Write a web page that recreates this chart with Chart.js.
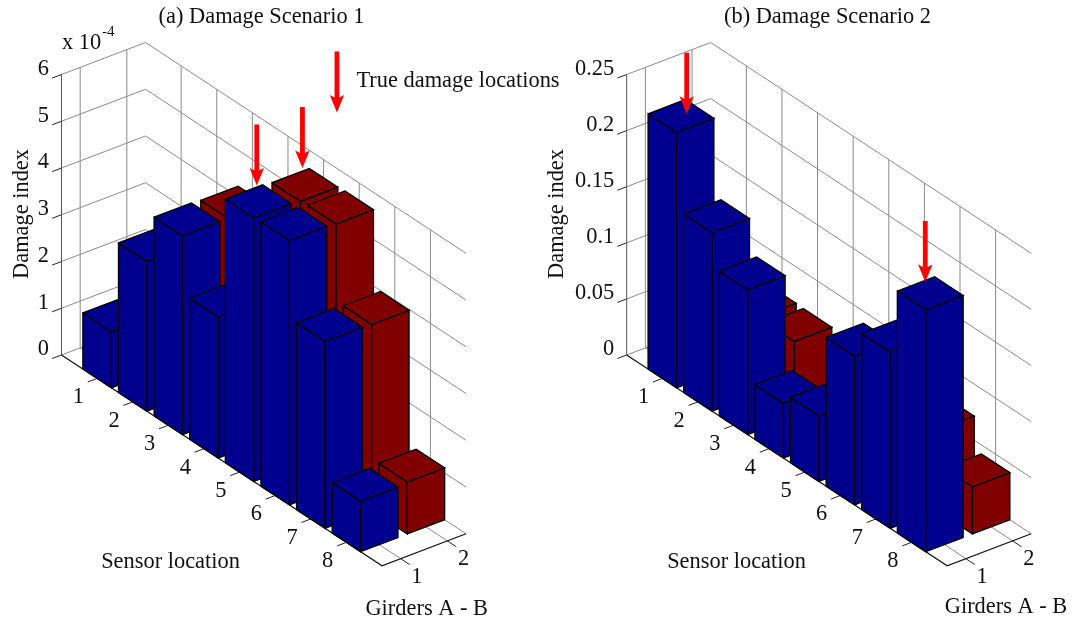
<!DOCTYPE html>
<html>
<head>
    <title>Damage Scenarios</title>
    <script src="https://cdn.jsdelivr.net/npm/chart.js"></script>
    <style>
        html, body { margin: 0; background: #fff; overflow: hidden; height: 100%; }
        canvas { position: absolute; top: 0; }
        #chart-a { left: 0; }
        #chart-b { left: 540px; }
    </style>
</head>
<body>
<canvas id="chart-a" width="565" height="625"></canvas>
<canvas id="chart-b" width="565" height="625"></canvas>
<script>
const sensors = [1, 2, 3, 4, 5, 6, 7, 8];
const girders = [1, 2];

const scenario1GirderA = [1.2, 3.2, 4.25, 3.02, 5.64, 5.66, 4.0, 1.08];
const scenario1GirderB = [1.5, 2.0, 4.23, 2.8, 5.61, 5.63, 3.98, 1.11];
const scenario1Ticks = [0, 1, 2, 3, 4, 5, 6];
const scenario1Arrows = [[4.96, 1, 5.96], [4.93, 2, 5.94], [5.9, 2, 7.61]];

const scenario2GirderA = [0.2275, 0.159, 0.129, 0.0487, 0.0584, 0.1326, 0.157, 0.2157];
const scenario2GirderB = [0.05, 0.0675, 0.0672, 0.015, 0.03, 0.04, 0.0714, 0.042];
const scenario2Ticks = [0, 0.05, 0.1, 0.15, 0.2, 0.25];
const scenario2Arrows = [[1.16, 1, 0.2329], [7.86, 1, 0.2227]];

const BLUE = '#00008f', RED = '#800000', GRID = '#8a8a8a', INK = '#111';
const FONT = '22.4px "Liberation Serif"';
const SENSOR_MIN = 0, SENSOR_MAX = 9, GIRDER_MIN = 0.6, GIRDER_MAX = 2.4;
const SENSOR_PX = 35.61, WALL_PX = 280.5, AREA_TOP = 30, AREA_BOTTOM = 600, FLOOR_Y = 355;
const BAR_HALF = 0.4;

function makePanel(cfg) {
    const zMax = cfg.ticks[cfg.ticks.length - 1];
    // oblique projection of (sensor, girder, value) into the chart's x and y scales
    const project = (s, g, z) => ({
        x: s + (g - GIRDER_MIN) * 1.311,
        y: z + zMax * (-s * 0.0835 + (g - GIRDER_MIN) * 0.0634)
    });

    const layers = [];
    const line = (pts, color, width) => layers.push({
        type: 'line', data: pts, borderColor: color, borderWidth: width,
        pointRadius: 0, tension: 0, fill: false, clip: false, borderCapStyle: 'butt'
    });
    const face = (pts, color, width) => layers.push({
        type: 'line', data: pts.concat([pts[0]]), borderColor: width ? '#000' : color,
        borderWidth: width, backgroundColor: color, pointRadius: 0, tension: 0,
        fill: 'shape', clip: false, borderJoinStyle: 'miter'
    });

    // walls and floor
    cfg.ticks.forEach(z => {
        line([project(SENSOR_MIN, GIRDER_MIN, z), project(SENSOR_MIN, GIRDER_MAX, z), project(SENSOR_MAX, GIRDER_MAX, z)], GRID, 1);
    });
    sensors.forEach(s => {
        line([project(s, GIRDER_MAX, 0), project(s, GIRDER_MAX, zMax)], GRID, 1);
        line([project(s, GIRDER_MIN, 0), project(s, GIRDER_MAX, 0)], GRID, 1);
        line([project(s, GIRDER_MIN - 0.2, 0), project(s, GIRDER_MIN, 0)], '#222', 1);
    });
    girders.forEach(g => {
        line([project(SENSOR_MIN, g, 0), project(SENSOR_MIN, g, zMax)], GRID, 1);
        line([project(SENSOR_MIN, g, 0), project(SENSOR_MAX, g, 0)], GRID, 1);
        line([project(SENSOR_MAX, g, 0), project(SENSOR_MAX + 0.25, g, 0)], '#222', 1);
    });
    cfg.ticks.forEach(z => {
        line([project(SENSOR_MIN, GIRDER_MIN - 0.2, z), project(SENSOR_MIN, GIRDER_MIN, z)], '#222', 1);
    });
    line([project(SENSOR_MIN, GIRDER_MIN, 0), project(SENSOR_MIN, GIRDER_MIN, zMax)], '#555', 1);
    line([project(SENSOR_MIN, GIRDER_MIN, 0), project(SENSOR_MAX, GIRDER_MIN, 0), project(SENSOR_MAX, GIRDER_MAX, 0)], '#111', 1.2);

    // bars, back girder first, then from the far sensor to the near one
    const addBars = (values, g, color) => {
        values.forEach((z, i) => {
            const s0 = sensors[i] - BAR_HALF, s1 = sensors[i] + BAR_HALF;
            const g0 = g - BAR_HALF, g1 = g + BAR_HALF;
            face([project(s0, g0, 0), project(s1, g0, 0), project(s1, g0, z), project(s0, g0, z)], color, 1.3);
            face([project(s1, g0, 0), project(s1, g1, 0), project(s1, g1, z), project(s1, g0, z)], color, 1.3);
            face([project(s0, g0, z), project(s1, g0, z), project(s1, g1, z), project(s0, g1, z)], color, 1.3);
        });
    };
    addBars(cfg.girderB, girders[1], RED);
    addBars(cfg.girderA, girders[0], BLUE);

    // arrows
    const ux = 1 / SENSOR_PX, uy = zMax / WALL_PX;
    cfg.arrows.forEach(a => {
        const tip = project(a[0], a[1], a[2]);
        const at = (dx, dy) => ({x: tip.x + dx * ux, y: tip.y + dy * uy});
        face([at(0, 0), at(7.2, 17.5), at(2.4, 15), at(2.4, 61), at(-2.4, 61), at(-2.4, 15), at(-7.2, 17.5)], '#ff0000', 0);
    });

    const labels = {
        id: 'panelLabels',
        afterDatasetsDraw(chart) {
            const ctx = chart.ctx, xs = chart.scales.x, ys = chart.scales.y;
            const px = p => ({x: xs.getPixelForValue(p.x), y: ys.getPixelForValue(p.y)});
            ctx.save();
            ctx.font = FONT;
            ctx.fillStyle = INK;
            ctx.textAlign = 'center';
            ctx.textBaseline = 'middle';
            sensors.forEach(s => {
                const p = px(project(s, GIRDER_MIN, 0));
                ctx.fillText(String(s), p.x - 18.7, p.y + 19);
            });
            girders.forEach(g => {
                const p = px(project(SENSOR_MAX, g, 0));
                ctx.fillText(String(g), p.x + 16.3, p.y + 18.7);
            });
            cfg.notes.forEach(n => ctx.fillText(n[0], n[1], n[2]));
            ctx.translate(cfg.yTitleX, 214);
            ctx.rotate(-Math.PI / 2);
            ctx.fillText('Damage index', 0, 0);
            ctx.restore();
            if (cfg.extra) cfg.extra(ctx);
        }
    };

    const canvas = document.getElementById(cfg.id);
    const xMin = SENSOR_MIN - 6.5 / SENSOR_PX;
    const areaLeft = cfg.axisX - 6.5;
    const areaRight = canvas.width - cfg.padRight;
    return new Chart(canvas, {
        data: {datasets: layers.reverse()},
        plugins: [labels],
        options: {
            responsive: false,
            animation: false,
            layout: {padding: {left: cfg.padLeft, right: cfg.padRight, top: 0, bottom: canvas.height - AREA_BOTTOM}},
            plugins: {
                legend: {display: false},
                tooltip: {enabled: false},
                title: {
                    display: true,
                    text: cfg.title,
                    color: INK,
                    font: {family: '"Liberation Serif"', size: 22.4, weight: 'normal', lineHeight: '24px'},
                    padding: {top: 5, bottom: 1}
                }
            },
            scales: {
                x: {
                    type: 'linear', display: false,
                    min: xMin,
                    max: xMin + (areaRight - areaLeft) / SENSOR_PX
                },
                y: {
                    type: 'linear',
                    min: -zMax * (AREA_BOTTOM - FLOOR_Y) / WALL_PX,
                    max: zMax * (FLOOR_Y - AREA_TOP) / WALL_PX,
                    grid: {display: false, drawTicks: false},
                    border: {display: false},
                    afterBuildTicks: axis => { axis.ticks = cfg.ticks.map(v => ({value: v})); },
                    afterFit: axis => { axis.width = areaLeft - cfg.padLeft; },
                    ticks: {
                        color: INK,
                        padding: 6,
                        labelOffset: -5.5,
                        autoSkip: false,
                        font: {family: '"Liberation Serif"', size: 22.4},
                        callback: v => String(v)
                    }
                }
            }
        }
    });
}

makePanel({
    id: 'chart-a', title: '(a) Damage Scenario 1',
    axisX: 61.5, padLeft: 0, padRight: 42, yTitleX: 22,
    ticks: scenario1Ticks, girderA: scenario1GirderA, girderB: scenario1GirderB, arrows: scenario1Arrows,
    notes: [['True damage locations', 458, 81], ['Sensor location', 170.5, 562], ['Girders A - B', 426.7, 609], ['x 10', 81.5, 43]],
    extra(ctx) {
        ctx.save();
        ctx.font = '15px "Liberation Serif"';
        ctx.fillStyle = INK;
        ctx.textAlign = 'left';
        ctx.textBaseline = 'middle';
        ctx.fillText('-4', 102, 32);
        ctx.restore();
    }
});

makePanel({
    id: 'chart-b', title: '(b) Damage Scenario 2',
    axisX: 86.7, padLeft: 10, padRight: 0, yTitleX: 17,
    ticks: scenario2Ticks, girderA: scenario2GirderA, girderB: scenario2GirderB, arrows: scenario2Arrows,
    notes: [['Sensor location', 196.5, 562], ['Girders A - B', 466, 607]]
});
</script>
</body>
</html>
